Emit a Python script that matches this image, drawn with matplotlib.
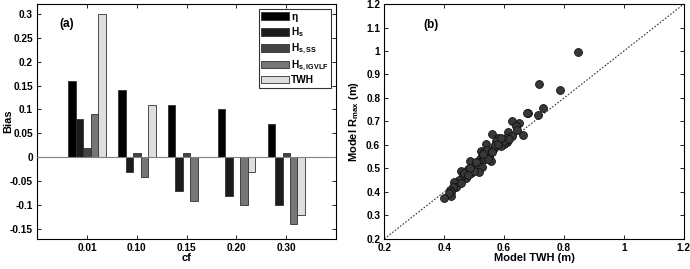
import matplotlib
matplotlib.use('Agg')
import matplotlib.pyplot as plt
import numpy as np

plt.rcParams['font.family'] = ['Liberation Sans', 'DejaVu Sans']
plt.rcParams['font.weight'] = 'bold'
plt.rcParams['axes.labelweight'] = 'bold'
plt.rcParams['font.size'] = 7.3
plt.rcParams['mathtext.fontset'] = 'custom'
plt.rcParams['mathtext.bf'] = 'Liberation Sans:bold'
plt.rcParams['mathtext.rm'] = 'Liberation Sans:bold'
plt.rcParams['mathtext.default'] = 'bf'

# panel (a) data
cf_labels = ['0.01', '0.10', '0.15', '0.20', '0.30']
eta = [0.16, 0.14, 0.11, 0.10, 0.07]
hs = [0.08, -0.03, -0.07, -0.08, -0.10]
hs_ss = [0.02, 0.01, 0.01, 0.0, 0.01]
hs_ig = [0.09, -0.04, -0.09, -0.10, -0.14]
twh = [0.30, 0.11, 0.0, -0.03, -0.12]
series_names = [r'$\eta$', 'H$_s$', 'H$_{s,SS}$', 'H$_{s,IGVLF}$', 'TWH']
series_colors = ['#000000', '#1c1c1c', '#444444', '#767676', '#dedede']

# panel (b) data
twh_model = [0.848, 0.716, 0.787, 0.731, 0.680, 0.675, 0.712, 0.628, 0.651, 0.641,
             0.642, 0.662, 0.559, 0.612, 0.626, 0.580, 0.592, 0.574, 0.605, 0.608,
             0.598, 0.588, 0.600, 0.565, 0.539, 0.522, 0.534, 0.546, 0.526, 0.536,
             0.520, 0.531, 0.548, 0.555, 0.542, 0.514, 0.560, 0.487, 0.525, 0.515,
             0.497, 0.480, 0.490, 0.470, 0.474, 0.455, 0.462, 0.450, 0.445, 0.434,
             0.440, 0.430, 0.420, 0.424, 0.424, 0.415, 0.400, 0.500, 0.485, 0.466,
             0.505, 0.545, 0.570, 0.580, 0.530, 0.455, 0.478, 0.590, 0.615, 0.560]
rmax_model = [0.995, 0.860, 0.833, 0.758, 0.737, 0.735, 0.726, 0.703, 0.694, 0.681,
              0.664, 0.641, 0.647, 0.654, 0.636, 0.628, 0.620, 0.616, 0.628, 0.612,
              0.602, 0.596, 0.615, 0.588, 0.604, 0.576, 0.570, 0.562, 0.552, 0.546,
              0.540, 0.535, 0.551, 0.531, 0.578, 0.526, 0.575, 0.532, 0.508, 0.486,
              0.500, 0.496, 0.482, 0.476, 0.460, 0.488, 0.470, 0.452, 0.432, 0.442,
              0.422, 0.420, 0.410, 0.400, 0.382, 0.396, 0.376, 0.490, 0.502, 0.480,
              0.528, 0.540, 0.600, 0.605, 0.560, 0.440, 0.470, 0.630, 0.625, 0.570]

fig = plt.figure(figsize=(6.9, 2.69), dpi=100)
ax1 = fig.add_axes([0.054, 0.112, 0.433, 0.873])
ax2 = fig.add_axes([0.557, 0.112, 0.434, 0.873])

x = np.arange(1, len(cf_labels) + 1)
w = 0.15
all_series = [eta, hs, hs_ss, hs_ig, twh]
for i, vals in enumerate(all_series):
    ax1.bar(x + (i - 2) * w, vals, w, color=series_colors[i], edgecolor='#303030',
            linewidth=0.6, label=series_names[i], zorder=2)
ax1.axhline(0, color='#808080', linewidth=0.8, zorder=3)
ax1.set_xlim(0, 6)
ax1.set_ylim(-0.17, 0.32)
ax1.set_xticks(x)
ax1.set_xticklabels(cf_labels)
yt = np.round(np.arange(-0.15, 0.301, 0.05), 2)
ax1.set_yticks(yt)
ax1.set_yticklabels(['%g' % v for v in yt])
ax1.set_xlabel('cf', fontsize=8)
ax1.xaxis.set_label_coords(0.5, -0.062)
ax1.set_ylabel('Bias', fontsize=8)
ax1.yaxis.set_label_coords(-0.082, 0.5)
ax1.text(0.45, 0.272, '(a)', fontsize=8.5, fontweight='bold')
leg = ax1.legend(loc='upper right', fancybox=False, edgecolor='black',
                 handlelength=2.8, handleheight=0.8, labelspacing=0.2,
                 handletextpad=0.15, borderpad=0.25, borderaxespad=0.5,
                 fontsize=7.3)
leg.get_frame().set_linewidth(0.8)

ax2.plot([0.2, 1.2], [0.2, 1.2], linestyle=(0, (1.5, 1.5)), color='#333333',
         linewidth=0.8, zorder=1)
ax2.scatter(twh_model, rmax_model, s=32, color='#383838', edgecolors='#111111',
            linewidths=0.6, zorder=2)
ax2.set_xlim(0.2, 1.2)
ax2.set_ylim(0.2, 1.2)
xt2 = np.round(np.arange(0.2, 1.201, 0.2), 1)
ax2.set_xticks(xt2)
ax2.set_xticklabels(['%g' % v for v in xt2])
yt2 = np.round(np.arange(0.2, 1.201, 0.1), 1)
ax2.set_yticks(yt2)
ax2.set_yticklabels(['%g' % v for v in yt2])
ax2.set_xlabel('Model TWH (m)', fontsize=8)
ax2.xaxis.set_label_coords(0.5, -0.062)
ax2.set_ylabel('Model R$_{max}$ (m)', fontsize=8)
ax2.yaxis.set_label_coords(-0.078, 0.5)
ax2.text(0.33, 1.1, '(b)', fontsize=8.5, fontweight='bold')

for ax in (ax1, ax2):
    ax.tick_params(direction='in', top=True, right=True, length=3, width=0.6, pad=3)
    for sp in ax.spines.values():
        sp.set_linewidth(0.8)

fig.savefig('out.png', dpi=100)
